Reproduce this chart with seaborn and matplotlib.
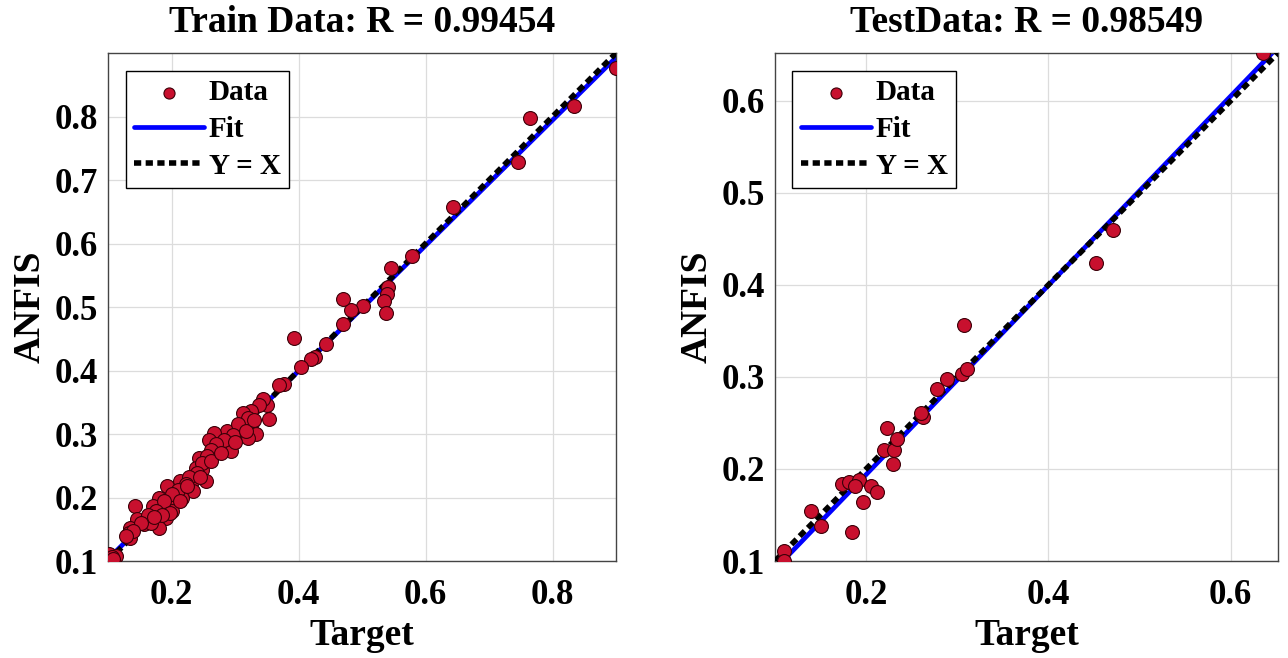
import numpy as np
import pandas as pd
import matplotlib
matplotlib.use("Agg")
import matplotlib.pyplot as plt
import seaborn as sns

# ---------------- data ----------------
train_target = [0.900, 0.833, 0.764, 0.745, 0.644, 0.578, 0.546, 0.541, 0.539, 0.535,
                0.538, 0.502, 0.483, 0.470, 0.470, 0.443, 0.426, 0.420, 0.404, 0.393,
                0.377, 0.369, 0.354, 0.351, 0.344, 0.338,
                0.325, 0.312, 0.327, 0.333, 0.320, 0.314, 0.301, 0.288, 0.291, 0.293,
                0.267, 0.259, 0.275, 0.267, 0.254, 0.243, 0.238, 0.248, 0.254, 0.233,
                0.214, 0.219, 0.233, 0.193, 0.206, 0.217, 0.196, 0.180, 0.183, 0.170,
                0.201, 0.191, 0.177, 0.159, 0.156, 0.143, 0.146, 0.135, 0.133, 0.135,
                0.180, 0.167, 0.101, 0.104, 0.112, 0.100,
                0.320, 0.305, 0.296, 0.282, 0.270, 0.262, 0.256, 0.248, 0.240, 0.228,
                0.222, 0.210, 0.200, 0.188, 0.175, 0.163, 0.152, 0.140, 0.128, 0.106,
                0.108, 0.262, 0.278, 0.300, 0.318, 0.330, 0.245, 0.225, 0.213, 0.197,
                0.185, 0.172]
train_output = [0.876, 0.817, 0.798, 0.729, 0.658, 0.580, 0.561, 0.532, 0.520, 0.509,
                0.490, 0.501, 0.495, 0.473, 0.512, 0.441, 0.421, 0.418, 0.405, 0.451,
                0.378, 0.377, 0.323, 0.346, 0.355, 0.345,
                0.336, 0.333, 0.317, 0.300, 0.294, 0.310, 0.304, 0.304, 0.291, 0.274,
                0.302, 0.291, 0.281, 0.268, 0.257, 0.262, 0.247, 0.244, 0.226, 0.228,
                0.226, 0.215, 0.210, 0.218, 0.205, 0.200, 0.189, 0.200, 0.186, 0.186,
                0.179, 0.168, 0.166, 0.163, 0.158, 0.186, 0.166, 0.152, 0.144, 0.137,
                0.152, 0.160, 0.111, 0.100, 0.108, 0.102,
                0.325, 0.315, 0.299, 0.290, 0.285, 0.275, 0.266, 0.255, 0.238, 0.232,
                0.222, 0.212, 0.205, 0.195, 0.178, 0.172, 0.160, 0.148, 0.140, 0.106,
                0.103, 0.258, 0.270, 0.288, 0.305, 0.322, 0.232, 0.218, 0.194, 0.176,
                0.172, 0.170]

test_target = [0.110, 0.110, 0.140, 0.150, 0.185, 0.174, 0.181, 0.192, 0.188, 0.197,
               0.205, 0.212, 0.229, 0.220, 0.231, 0.234, 0.223, 0.262, 0.260, 0.278,
               0.289, 0.305, 0.311, 0.307, 0.452, 0.471, 0.636]
test_output = [0.111, 0.100, 0.154, 0.138, 0.132, 0.184, 0.186, 0.188, 0.181, 0.164,
               0.181, 0.175, 0.205, 0.221, 0.221, 0.233, 0.244, 0.257, 0.261, 0.287,
               0.298, 0.303, 0.309, 0.357, 0.424, 0.460, 0.652]

titles = ["Train Data: R = 0.99454", "TestData: R = 0.98549"]
train_xticks = [0.2, 0.4, 0.6, 0.8]
train_yticks = [0.1, 0.2, 0.3, 0.4, 0.5, 0.6, 0.7, 0.8]
test_xticks = [0.2, 0.4, 0.6]
test_yticks = [0.1, 0.2, 0.3, 0.4, 0.5, 0.6]

# ---------------- style ----------------
sns.set_theme(style="white")
plt.rcParams["font.family"] = ["Liberation Serif", "DejaVu Serif"]
plt.rcParams["font.weight"] = "bold"
plt.rcParams["axes.titleweight"] = "bold"
plt.rcParams["axes.labelweight"] = "bold"
plt.rcParams["text.color"] = "black"
plt.rcParams["axes.labelcolor"] = "black"
plt.rcParams["xtick.labelcolor"] = "black"
plt.rcParams["ytick.labelcolor"] = "black"

fig = plt.figure(figsize=(12.88, 6.58), dpi=100)
ax1 = fig.add_axes([0.0839, 0.1474, 0.3944, 0.772])
ax2 = fig.add_axes([0.6017, 0.1474, 0.3905, 0.772])

panels = [
    (ax1, train_target, train_output, titles[0], train_xticks, train_yticks),
    (ax2, test_target, test_output, titles[1], test_xticks, test_yticks),
]

for ax, t, y, title, xt, yt in panels:
    t = np.asarray(t)
    y = np.asarray(y)
    lo = min(t.min(), y.min())
    hi = max(t.max(), y.max())
    a, b = np.polyfit(t, y, 1)
    line_df = pd.DataFrame({"x": [lo, hi]})
    line_df["fit"] = a * line_df["x"] + b
    line_df["yx"] = line_df["x"]
    pts = pd.DataFrame({"Target": t, "ANFIS": y})

    sns.lineplot(data=line_df, x="x", y="fit", ax=ax, color="#0000ff",
                 linewidth=3.4, label="Fit", zorder=2)
    sns.lineplot(data=line_df, x="x", y="yx", ax=ax, color="black",
                 linewidth=4.0, label="Y = X", zorder=3)
    ax.lines[-1].set_dashes([1.3, 0.8])
    sns.scatterplot(data=pts, x="Target", y="ANFIS", ax=ax, s=100,
                    color="#c8102e", edgecolor="#3c0008", linewidth=0.8,
                    label="Data", zorder=4)

    ax.set_xlim(lo, hi)
    ax.set_ylim(lo, hi)
    ax.set_xticks(xt)
    ax.set_yticks(yt)
    ax.set_xticklabels([f"{v:g}" for v in xt])
    ax.set_yticklabels([f"{v:g}" for v in yt])
    ax.tick_params(direction="in", length=6, width=0.8, labelsize=25,
                   color="#333333")
    ax.tick_params(axis="x", pad=13)
    ax.tick_params(axis="y", pad=7)
    for lab in ax.get_xticklabels() + ax.get_yticklabels():
        lab.set_fontweight("bold")
    ax.grid(True, color="#dcdcdc", linewidth=0.9)
    ax.set_axisbelow(True)
    for sp in ax.spines.values():
        sp.set_color("#444444")
        sp.set_linewidth(1.0)
    ax.set_title(title, fontsize=27, fontweight="bold", pad=15)
    ax.set_xlabel("Target", fontsize=27, fontweight="bold", labelpad=4)
    ax.set_ylabel("ANFIS", fontsize=27, fontweight="bold", labelpad=5)

    h, l = ax.get_legend_handles_labels()
    order = [l.index("Data"), l.index("Fit"), l.index("Y = X")]
    leg = ax.legend([h[i] for i in order], [l[i] for i in order],
                    loc="upper left", prop={"weight": "bold", "size": 21},
                    frameon=True, fancybox=False, edgecolor="black",
                    framealpha=1, handlelength=2.4, handletextpad=0.15,
                    borderaxespad=0.6, borderpad=0.3, labelspacing=0.33,
                    markerscale=0.8)
    leg.get_frame().set_linewidth(1.0)

fig.savefig("out.png", dpi=100)
